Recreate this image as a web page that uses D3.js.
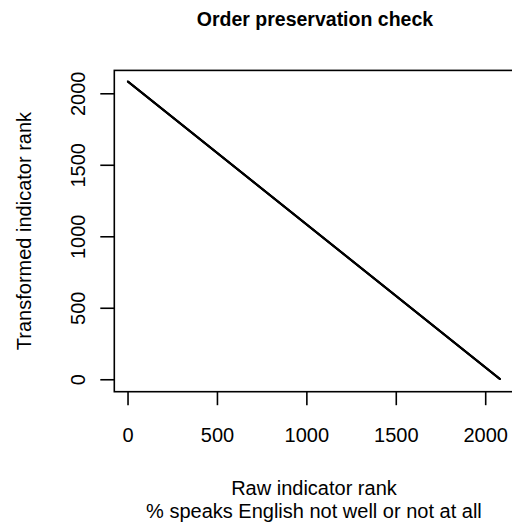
<!DOCTYPE html>
<html>
<head>
<meta charset="utf-8">
<script src="https://cdn.jsdelivr.net/npm/d3@7"></script>
<style>
  html, body { margin: 0; padding: 0; background: #fff; }
  svg { display: block; font-family: "Liberation Sans", Arial, Helvetica, sans-serif; }
</style>
</head>
<body>
<svg id="chart" width="512" height="529"></svg>
<script>
// ---- data ----
// Number of ranked areas (last raw rank ≈ 2083)
const nAreas = 2083;
// Raw indicator rank: ranks 1..n
const rawRank = d3.range(1, nAreas + 1);
// Transformed indicator rank: order is exactly reversed (perfect order preservation, inverted)
const transformedRank = rawRank.map(r => nAreas + 1 - r);
const xTicks = [0, 500, 1000, 1500, 2000];
const yTicks = [0, 500, 1000, 1500, 2000];
const xLim = [-74, 2170];
const yLim = [-87, 2160];
const titleText = "Order preservation check";
const xLabelLines = ["Raw indicator rank", "% speaks English not well or not at all"];
const yLabelText = "Transformed indicator rank";

// ---- layout ----
const svg = d3.select("#chart");
const plot = { left: 114.3, right: 515.6, top: 70.4, bottom: 391.7 };

const x = d3.scaleLinear().domain(xLim).range([plot.left, plot.right]);
const y = d3.scaleLinear().domain(yLim).range([plot.bottom, plot.top]);

// points
const pts = svg.append("g");
pts.selectAll("rect")
  .data(rawRank.map((r, i) => [r, transformedRank[i]]))
  .join("rect")
  .attr("x", d => x(d[0]) - 0.8)
  .attr("y", d => y(d[1]) - 0.8)
  .attr("width", 1.6)
  .attr("height", 1.6)
  .attr("fill", "#000");

// box
svg.append("rect")
  .attr("x", plot.left).attr("y", plot.top)
  .attr("width", plot.right - plot.left)
  .attr("height", plot.bottom - plot.top)
  .attr("fill", "none").attr("stroke", "#000").attr("stroke-width", 1.6);

// x axis
const xAxis = d3.axisBottom(x).tickValues(xTicks).tickSize(13.5).tickSizeOuter(0).tickPadding(23)
  .tickFormat(d3.format("d"));
const gx = svg.append("g").attr("transform", `translate(0,${plot.bottom})`).call(xAxis);
gx.select(".domain").remove();
gx.selectAll(".tick line").attr("stroke", "#000").attr("stroke-width", 1.6);
gx.selectAll(".tick text").attr("font-size", 20).attr("fill", "#000")
  .attr("dy", null).attr("y", 50.5);

// y axis
const yAxis = d3.axisLeft(y).tickValues(yTicks).tickSize(14).tickSizeOuter(0)
  .tickFormat(d3.format("d"));
const gy = svg.append("g").attr("transform", `translate(${plot.left},0)`).call(yAxis);
gy.select(".domain").remove();
gy.selectAll(".tick line").attr("stroke", "#000").attr("stroke-width", 1.6);
gy.selectAll(".tick text")
  .attr("font-size", 20).attr("fill", "#000")
  .attr("x", null).attr("dy", null)
  .attr("text-anchor", "middle")
  .attr("transform", `translate(${85 - plot.left},0) rotate(-90)`);

// title
svg.append("text")
  .attr("x", (plot.left + plot.right) / 2).attr("y", 25.5)
  .attr("text-anchor", "middle").attr("font-weight", "bold").attr("font-size", 19.5)
  .attr("fill", "#000").text(titleText);

// x label
const xl = svg.append("text").attr("text-anchor", "middle").attr("font-size", 20).attr("fill", "#000");
xLabelLines.forEach((t, i) => {
  xl.append("tspan").attr("x", (plot.left + plot.right) / 2 - 1).attr("y", 495 + i * 23).text(t);
});

// y label
svg.append("text")
  .attr("transform", `translate(31,${(plot.top + plot.bottom) / 2}) rotate(-90)`)
  .attr("text-anchor", "middle").attr("font-size", 20).attr("fill", "#000")
  .text(yLabelText);
</script>
</body>
</html>
